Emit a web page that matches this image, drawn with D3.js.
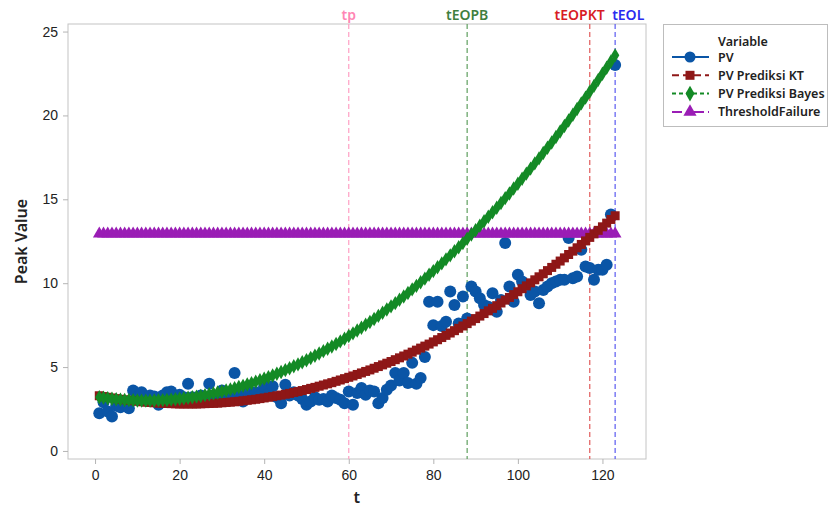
<!DOCTYPE html>
<html>
<head>
<meta charset="utf-8">
<script src="https://cdn.jsdelivr.net/npm/d3@7"></script>
<style>
  body { margin: 0; background: #fff; }
  svg { display: block; font-family: "Noto Sans", "Open Sans", sans-serif; }
</style>
</head>
<body>
<div id="chart"></div>
<script>
// time index 1..123
const tValues = d3.range(1, 124);

const pv = [2.25, 2.9, 2.35, 2.05, 2.7, 2.6, 2.8, 2.55, 3.6, 3.2,
  3.5, 3.0, 3.3, 3.25, 2.75, 3.3, 3.5, 3.55, 3.1, 3.35,
  3.2, 4.0, 3.2, 3.0, 3.3, 3.1, 4.0, 3.3, 3.1, 3.6,
  3.2, 3.4, 4.65, 3.3, 2.95, 3.6, 3.2, 3.5, 3.3, 3.85,
  3.4, 3.85, 3.2, 2.85, 3.95, 3.3, 3.5, 3.3, 3.1, 2.75,
  2.95, 3.2, 3.05, 3.1, 2.95, 3.3, 3.15, 3.05, 2.85, 3.55,
  2.75, 3.45, 3.75, 3.35, 3.6, 3.55, 2.85, 3.15, 3.65, 3.9,
  4.65, 4.2, 4.65, 4.05, 5.25, 4.0, 4.35, 5.6, 8.9, 7.5,
  8.9, 7.45, 7.7, 9.5, 8.7, 7.6, 9.2, 7.9, 9.8, 9.5,
  9.1, 8.7, 8.6, 9.4, 8.3, 9.0, 12.4, 9.8, 8.9, 10.5,
  10.1, 9.9, 9.3, 9.5, 8.8, 9.6, 9.8, 10.0, 10.1, 10.2,
  10.2, 12.7, 10.3, 10.4, 12.0, 11.0, 10.9, 10.2, 10.8, 10.8,
  11.1, 14.1, 23.0];

const pvKT = [3.29, 3.24, 3.20, 3.16, 3.12, 3.08, 3.05, 3.02, 2.99, 2.96,
  2.93, 2.91, 2.89, 2.87, 2.85, 2.84, 2.83, 2.82, 2.81, 2.80,
  2.80, 2.80, 2.80, 2.80, 2.81, 2.82, 2.83, 2.84, 2.85, 2.87,
  2.89, 2.91, 2.93, 2.96, 2.99, 3.02, 3.05, 3.08, 3.12, 3.16,
  3.20, 3.24, 3.29, 3.33, 3.38, 3.43, 3.49, 3.54, 3.60, 3.66,
  3.73, 3.79, 3.86, 3.93, 4.00, 4.07, 4.15, 4.23, 4.31, 4.39,
  4.47, 4.56, 4.65, 4.74, 4.83, 4.93, 5.03, 5.13, 5.23, 5.33,
  5.44, 5.55, 5.66, 5.77, 5.89, 6.01, 6.13, 6.25, 6.37, 6.50,
  6.63, 6.76, 6.89, 7.03, 7.17, 7.31, 7.45, 7.59, 7.74, 7.89,
  8.04, 8.19, 8.35, 8.50, 8.66, 8.82, 8.99, 9.15, 9.32, 9.49,
  9.67, 9.84, 10.02, 10.20, 10.38, 10.56, 10.75, 10.94, 11.13, 11.32,
  11.51, 11.71, 11.91, 12.11, 12.31, 12.52, 12.73, 12.94, 13.15, 13.36,
  13.58, 13.80, 14.02];

const pvBayes = [3.20, 3.17, 3.14, 3.11, 3.08, 3.06, 3.04, 3.03, 3.02, 3.01,
  3.00, 3.00, 3.00, 3.01, 3.02, 3.03, 3.04, 3.06, 3.08, 3.11,
  3.14, 3.17, 3.20, 3.24, 3.28, 3.33, 3.38, 3.43, 3.48, 3.54,
  3.60, 3.67, 3.74, 3.81, 3.88, 3.96, 4.04, 4.13, 4.22, 4.31,
  4.40, 4.50, 4.60, 4.71, 4.82, 4.93, 5.05, 5.16, 5.29, 5.41,
  5.54, 5.67, 5.81, 5.95, 6.09, 6.23, 6.38, 6.53, 6.69, 6.85,
  7.01, 7.18, 7.34, 7.52, 7.69, 7.87, 8.05, 8.24, 8.43, 8.62,
  8.81, 9.01, 9.21, 9.42, 9.63, 9.84, 10.06, 10.27, 10.50, 10.72,
  10.95, 11.18, 11.42, 11.66, 11.90, 12.14, 12.39, 12.65, 12.90, 13.16,
  13.42, 13.69, 13.96, 14.23, 14.50, 14.78, 15.07, 15.35, 15.64, 15.93,
  16.23, 16.53, 16.83, 17.14, 17.44, 17.76, 18.07, 18.39, 18.71, 19.04,
  19.37, 19.70, 20.04, 20.38, 20.72, 21.06, 21.41, 21.76, 22.12, 22.48,
  22.84, 23.21, 23.58];

const thresholdValue = 13;
const threshold = tValues.map(() => thresholdValue);

const xTicks = [0, 20, 40, 60, 80, 100, 120];
const yTicks = [0, 5, 10, 15, 20, 25];

const refLabels = ['tp', 'tEOPB', 'tEOPKT', 'tEOL'];
const refTimes = [60, 88, 117, 123];
const refLineColors = ['#ff9fc4', '#5f9f5f', '#e05a5a', '#5a5af0'];
const refTextColors = ['#ff86b4', '#3f7f3f', '#d81c24', '#2b2bf0'];

const seriesNames = ['PV', 'PV Prediksi KT', 'PV Prediksi Bayes', 'ThresholdFailure'];
const seriesColors = ['#0a55a6', '#8e1717', '#138a25', '#9a1db5'];

const W = 829, H = 509;
const plot = { left: 68, right: 646, top: 24, bottom: 459 };

const svg = d3.select('#chart').append('svg').attr('width', W).attr('height', H);

const x = d3.scaleLinear().domain([-6.4, 130.3]).range([plot.left, plot.right]);
const y = d3.scaleLinear().domain([-0.48, 25.45]).range([plot.bottom, plot.top]);

// frame
svg.append('rect')
  .attr('x', plot.left).attr('y', plot.top)
  .attr('width', plot.right - plot.left).attr('height', plot.bottom - plot.top)
  .attr('fill', 'none').attr('stroke', '#c4c4c4').attr('stroke-width', 1);

// axes
const xAxis = svg.append('g').attr('transform', `translate(0,${plot.bottom})`)
  .call(d3.axisBottom(x).tickValues(xTicks).tickSize(5).tickPadding(6));
const yAxis = svg.append('g').attr('transform', `translate(${plot.left},0)`)
  .call(d3.axisLeft(y).tickValues(yTicks).tickSize(5).tickPadding(5));
[xAxis, yAxis].forEach(a => {
  a.select('.domain').remove();
  a.selectAll('line').attr('stroke', '#b4b4b4');
  a.selectAll('text').attr('fill', '#222').style('font-size', '14px');
});

svg.append('text').attr('x', (x(0) + x(120)) / 2 + 8).attr('y', 503)
  .attr('text-anchor', 'middle').attr('fill', '#222')
  .style('font-size', '16px').style('font-weight', 600).text('t');
svg.append('text').attr('transform', `translate(27,${(plot.top + plot.bottom) / 2}) rotate(-90)`)
  .attr('text-anchor', 'middle').attr('fill', '#222')
  .style('font-size', '16px').style('font-weight', 600).text('Peak Value');

// reference lines; labels nudged sideways so the last two don't collide
const refAnchor = ['middle', 'middle', 'end', 'start'];
const refNudge = [0, 0, 15, -3];
refTimes.forEach((tv, i) => {
  svg.append('line')
    .attr('x1', x(tv)).attr('x2', x(tv)).attr('y1', plot.top).attr('y2', plot.bottom)
    .attr('stroke', refLineColors[i]).attr('stroke-width', 1.2).attr('stroke-dasharray', '5,3');
  svg.append('text').attr('x', x(tv) + refNudge[i]).attr('y', 20)
    .attr('text-anchor', refAnchor[i]).attr('fill', refTextColors[i])
    .style('font-size', '14px').style('font-weight', 600).text(refLabels[i]);
});

const g = svg.append('g');

// PV points
g.selectAll('.pv').data(tValues).enter().append('circle')
  .attr('cx', t => x(t)).attr('cy', (t, i) => y(pv[i])).attr('r', 6)
  .attr('fill', seriesColors[0]);

// threshold triangles
const tri = d3.symbol().type(d3.symbolTriangle).size(70);
g.selectAll('.thr').data(tValues).enter().append('path')
  .attr('d', tri).attr('transform', (t, i) => `translate(${x(t)},${y(threshold[i]) + 1})`)
  .attr('fill', seriesColors[3]);

// KT squares
g.selectAll('.kt').data(tValues).enter().append('rect')
  .attr('x', t => x(t) - 4.5).attr('y', (t, i) => y(pvKT[i]) - 4.5)
  .attr('width', 9).attr('height', 9).attr('fill', seriesColors[1]);

// Bayes diamonds
const dia = d3.symbol().type(d3.symbolDiamond).size(60);
g.selectAll('.by').data(tValues).enter().append('path')
  .attr('d', dia).attr('transform', (t, i) => `translate(${x(t)},${y(pvBayes[i])})`)
  .attr('fill', seriesColors[2]);

// legend
const lg = svg.append('g');
lg.append('rect').attr('x', 663.5).attr('y', 24.5).attr('width', 164).attr('height', 102)
  .attr('fill', '#fff').attr('stroke', '#bdbdbd');
lg.append('text').attr('x', 718).attr('y', 46).attr('fill', '#222')
  .style('font-size', '12.5px').style('font-weight', 600).text('Variable');
const dashes = [null, '7,4', '4,3', '10,4,4,4'];
const markers = [
  (s, c) => s.append('circle').attr('r', 5.5).attr('fill', c),
  (s, c) => s.append('rect').attr('x', -4.5).attr('y', -4.5).attr('width', 9).attr('height', 9).attr('fill', c),
  (s, c) => s.append('path').attr('d', d3.symbol().type(d3.symbolDiamond).size(70)).attr('fill', c),
  (s, c) => s.append('path').attr('d', d3.symbol().type(d3.symbolTriangle).size(75)).attr('fill', c)
];
seriesNames.forEach((name, i) => {
  const cy = 57 + i * 18.3;
  lg.append('line').attr('x1', 672).attr('x2', 709).attr('y1', cy).attr('y2', cy)
    .attr('stroke', seriesColors[i]).attr('stroke-width', 2)
    .attr('stroke-dasharray', dashes[i]);
  const m = lg.append('g').attr('transform', `translate(690,${cy})`);
  markers[i](m, seriesColors[i]);
  lg.append('text').attr('x', 718).attr('y', cy + 4.5).attr('fill', '#222')
    .style('font-size', '12.5px').style('font-weight', 600).text(name);
});
</script>
</body>
</html>
